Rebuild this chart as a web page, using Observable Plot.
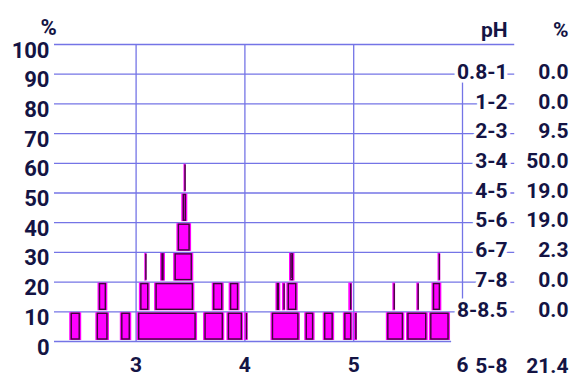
<!DOCTYPE html>
<html><head><meta charset="utf-8">
<script src="https://cdn.jsdelivr.net/npm/d3@7"></script>
<script src="https://cdn.jsdelivr.net/npm/@observablehq/plot@0.6"></script>
<style>
html,body{margin:0;padding:0;background:#fff;}
#chart svg{display:block}
</style></head><body><div id="chart"></div>
<script>
// ---- data ----
const yTicks = [0, 10, 20, 30, 40, 50, 60, 70, 80, 90, 100];
const xTicks = [3, 4, 5, 6];
// each bar: pH start, pH end, base level (%), height 10 %
const barStart = [2.39, 2.63, 2.855, 3.01, 3.62, 3.835, 4.0, 4.24, 4.55, 4.72, 4.905, 5.005, 5.30, 5.485, 5.695,
                  2.65, 3.03, 3.17, 3.70, 3.855, 4.285, 4.345, 4.385, 4.955, 5.36, 5.58, 5.72,
                  3.08, 3.225, 3.345, 4.41, 5.775,
                  3.375, 3.42, 3.44];
const barEnd   = [2.50, 2.755, 2.96, 3.565, 3.815, 3.99, 4.03, 4.51, 4.645, 4.825, 4.995, 5.035, 5.47, 5.685, 5.89,
                  2.74, 3.13, 3.54, 3.81, 3.955, 4.33, 4.375, 4.49, 4.99, 5.385, 5.605, 5.81,
                  3.10, 3.27, 3.53, 4.46, 5.80,
                  3.51, 3.475, 3.46];
const barLevel = [0, 0, 0, 0, 0, 0, 0, 0, 0, 0, 0, 0, 0, 0, 0,
                  10, 10, 10, 10, 10, 10, 10, 10, 10, 10, 10, 10,
                  20, 20, 20, 20, 20,
                  30, 40, 50];
const rowRanges   = ["0.8-1", "1-2", "2-3", "3-4", "4-5", "5-6", "6-7", "7-8", "8-8.5"];
const rowPercents = ["0.0", "0.0", "9.5", "50.0", "19.0", "19.0", "2.3", "0.0", "0.0"];
const totalRange = "5-8";
const totalPercent = "21.4";

const bars = barStart.map((s, i) => ({x1: s, x2: barEnd[i], y1: barLevel[i], y2: barLevel[i] + 10}));
const wide = bars.filter(d => d.x2 - d.x1 >= 0.04);
const thin = bars.filter(d => d.x2 - d.x1 < 0.04);
const rows = rowRanges.map((r, i) => ({r, p: rowPercents[i], y: 90 - 10 * i}));

const grid = "#7474e6";
const ink = "#141444";
const font = "Roboto, 'Liberation Sans', sans-serif";
const fw = "bold";

const chart = Plot.plot({
  width: 573, height: 378,
  marginLeft: 54, marginRight: 111, marginTop: 44, marginBottom: 37,
  x: {domain: [2.25, 6]},
  y: {domain: [0, 100]},
  style: {fontFamily: font, color: ink, background: "white", overflow: "visible"},
  marks: [
    Plot.ruleY(yTicks.filter(d => d > 0), {y: d => d, x1: 2.25, x2: 6.48, stroke: grid, strokeWidth: 1.3}),
    Plot.ruleY([0], {y: d => d, x1: 2.25, x2: 5.9, stroke: grid, strokeWidth: 1.3}),
    Plot.ruleX(xTicks.filter(d => d < 6), {x: d => d, y1: 0, y2: 100, stroke: grid, strokeWidth: 1.3}),
    Plot.ruleX([6], {x: d => d, y1: 10, y2: 89, stroke: grid, strokeWidth: 1.3}),
    Plot.rect(bars, {x1: "x1", x2: "x2", y1: "y1", y2: "y2", fill: "#ff00ff", insetTop: 1, insetBottom: 1}),
    Plot.rect(wide, {x1: "x1", x2: "x2", y1: "y1", y2: "y2", fill: "none", stroke: "#3e0838", strokeWidth: 1.4, insetTop: 2, insetBottom: 2, insetLeft: 2, insetRight: 2}),
    Plot.ruleX(thin, {x: d => (d.x1 + d.x2) / 2, y1: d => d.y1 + 0.6, y2: d => d.y2 - 0.6, stroke: "#3e0838", strokeWidth: 1.4}),
    Plot.axisY({ticks: yTicks, tickSize: 0, tickPadding: 5, dy: 6, fontSize: 22, fontWeight: fw, label: null, fill: ink}),
    Plot.axisX({ticks: xTicks, tickFormat: d3.format("d"), tickSize: 0, tickPadding: 16, fontSize: 21, fontWeight: fw, label: null, fill: ink}),
    Plot.text(["%"], {frameAnchor: "top-left", dx: -14, dy: -25, fontSize: 22, fontWeight: fw, fill: ink}),
    Plot.text(["pH"], {x: 6.414, y: 100, dy: -14, textAnchor: "end", fontSize: 21, fontWeight: fw, fill: ink}),
    Plot.text(["%"], {x: 6.974, y: 100, dy: -14, textAnchor: "end", fontSize: 21, fontWeight: fw, fill: ink}),
    Plot.text(rows, {x: 6.414, y: "y", text: "r", dy: -2, textAnchor: "end", fontSize: 21, fontWeight: fw, fill: ink, stroke: "white", strokeWidth: 7}),
    Plot.text(rows, {x: 6.974, y: "y", text: "p", dy: -2, textAnchor: "end", fontSize: 21, fontWeight: fw, fill: ink}),
    Plot.text([totalRange], {x: 6.414, y: 0, dy: 25, textAnchor: "end", fontSize: 21, fontWeight: fw, fill: ink}),
    Plot.text([totalPercent], {x: 6.974, y: 0, dy: 25, textAnchor: "end", fontSize: 21, fontWeight: fw, fill: ink})
  ]
});
document.getElementById("chart").appendChild(chart);
</script></body></html>
